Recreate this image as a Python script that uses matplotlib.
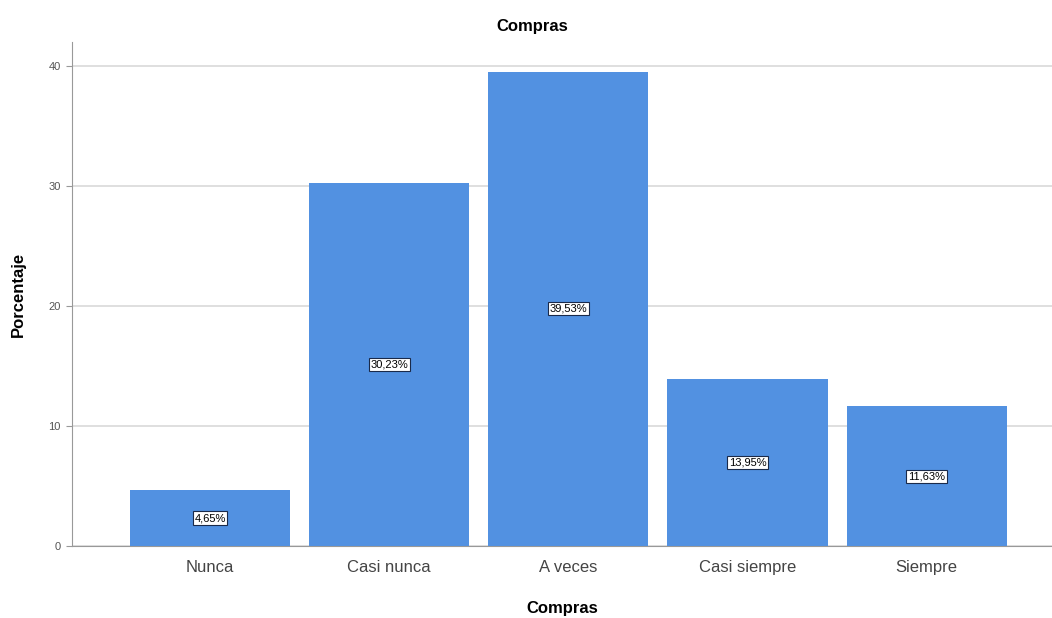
import matplotlib
matplotlib.use("Agg")
import matplotlib.pyplot as plt

categories = ["Nunca", "Casi nunca", "A veces", "Casi siempre", "Siempre"]
percentages = [4.65, 30.23, 39.53, 13.95, 11.63]
value_labels = ["4,65%", "30,23%", "39,53%", "13,95%", "11,63%"]
y_ticks = [0, 10, 20, 30, 40]

plt.rcParams["font.family"] = ["Liberation Sans", "DejaVu Sans"]

fig = plt.figure(figsize=(10.52, 6.18), dpi=100)
ax = fig.add_axes([72 / 1052, 1 - 546 / 618, 1 - 72 / 1052, (546 - 42) / 618])

x = list(range(len(categories)))
bars = ax.bar(x, percentages, width=0.894, color="#5291E1", zorder=3)

for xi, val, lab in zip(x, percentages, value_labels):
    ax.text(xi, val / 2, lab, ha="center", va="center", fontsize=8, color="black",
            zorder=4,
            bbox=dict(boxstyle="square,pad=0.15", facecolor="white", edgecolor="#1a2a4a",
                      linewidth=0.8))

ax.set_xlim(-0.77, 4.7)
ax.set_ylim(0, 42)
ax.set_yticks(y_ticks)
ax.set_yticklabels([str(t) for t in y_ticks], fontsize=8, color="#555555")
ax.set_xticks(x)
ax.set_xticklabels(categories, fontsize=12, color="#444444")
ax.tick_params(axis="x", length=0, pad=10)
ax.tick_params(axis="y", length=4, color="#999999", pad=4)

ax.grid(axis="y", color="#d9d9d9", linewidth=1.2, zorder=0)
for side in ["top", "right"]:
    ax.spines[side].set_visible(False)
ax.spines["left"].set_color("#999999")
ax.spines["bottom"].set_color("#999999")

fig.text(532 / 1052, 1 - 27 / 618, "Compras", ha="center", va="center",
         fontsize=12, fontweight="bold")
ax.set_xlabel("Compras", fontsize=12, fontweight="bold", labelpad=19)
ax.set_ylabel("Porcentaje", fontsize=12, fontweight="bold", labelpad=16)

fig.savefig("out.png", dpi=100, facecolor="white")
